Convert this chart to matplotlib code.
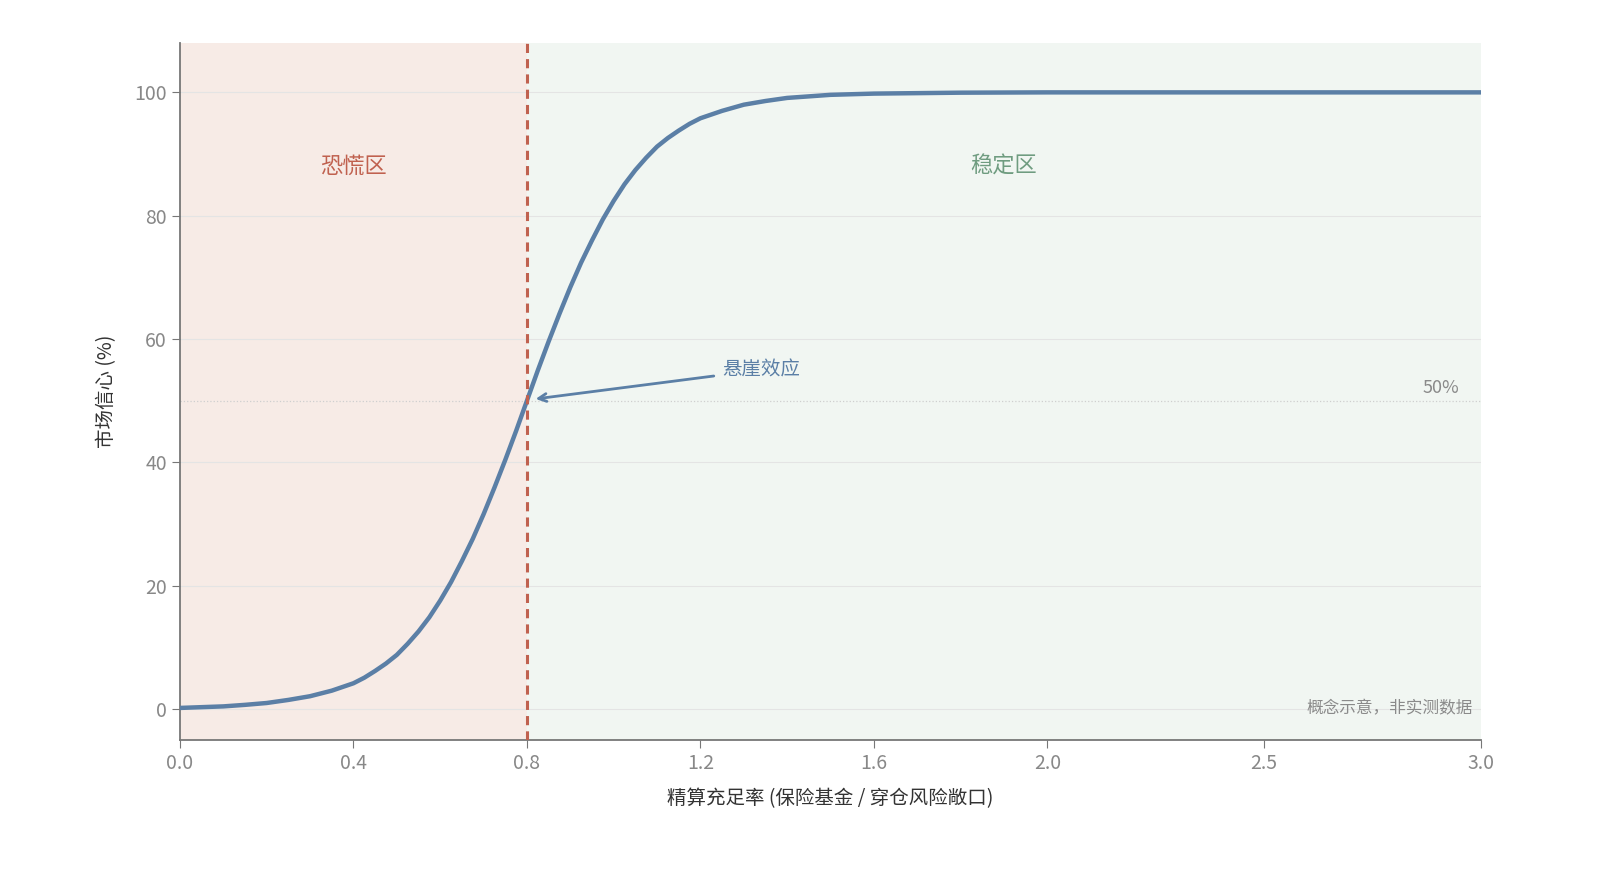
import numpy as np
import matplotlib.pyplot as plt

plt.rcParams['font.family'] = ['Noto Sans CJK SC', 'DejaVu Sans']

# values
ratio = [0.0, 0.1, 0.15, 0.2, 0.25, 0.3, 0.35, 0.4, 0.425, 0.45, 0.475, 0.5, 0.525, 0.55,
         0.575, 0.6, 0.625, 0.65, 0.675, 0.7, 0.725, 0.75, 0.775, 0.8,
         0.825, 0.85, 0.875, 0.9, 0.925, 0.95, 0.975, 1.0, 1.025, 1.05, 1.075, 1.1,
         1.125, 1.15, 1.175, 1.2, 1.25, 1.3, 1.35, 1.4, 1.5, 1.6, 1.8, 2.0, 2.5, 3.0]
confidence = [0.2, 0.45, 0.7, 1.0, 1.5, 2.1, 3.0, 4.2, 5.1, 6.2, 7.4, 8.8, 10.6, 12.6,
              14.9, 17.6, 20.6, 24.0, 27.6, 31.6, 35.9, 40.4, 45.1, 50.0,
              54.9, 59.6, 64.1, 68.4, 72.4, 76.0, 79.4, 82.4, 85.1, 87.4, 89.4, 91.2,
              92.6, 93.8, 94.9, 95.8, 97.0, 98.0, 98.6, 99.1, 99.6, 99.8, 99.95, 100.0, 100.0, 100.0]
xticks = [0.0, 0.4, 0.8, 1.2, 1.6, 2.0, 2.5, 3.0]
yticks = [0, 20, 40, 60, 80, 100]
threshold = 0.8

fig = plt.figure(figsize=(16, 8.89), dpi=100)
ax = fig.add_axes([0.1125, 0.1676, 0.8131, 0.784])
ax.set_xlim(0, 3.0)
ax.set_ylim(-5, 108)

ax.axvspan(0, threshold, color='#f7ebe6', zorder=0)
ax.axvspan(threshold, 3.0, color='#f1f6f2', zorder=0)
for y in yticks:
    ax.axhline(y, color='#e4e4e4', lw=0.8, zorder=1)
ax.axhline(50, color='#cfcfcf', lw=0.9, ls=':', zorder=1)

ax.plot(ratio, confidence, color='#5b7fa6', lw=3.2, zorder=3,
        solid_capstyle='round', solid_joinstyle='round')
ax.axvline(threshold, color='#c0614f', lw=2.2, ls=(0, (3, 2)), zorder=4)

ax.text(0.4, 88, '恐慌区', color='#c0614f', fontsize=16, ha='center', va='center')
ax.text(1.9, 88, '稳定区', color='#6f9c80', fontsize=16, ha='center', va='center')
ax.annotate('悬崖效应', xy=(0.82, 50.3), xytext=(1.25, 55), color='#5b7fa6', fontsize=14,
            ha='left', va='center',
            arrowprops=dict(arrowstyle='->', color='#5b7fa6', lw=2, shrinkB=0, shrinkA=4))
ax.text(2.95, 52, '50%', color='#8a8a8a', fontsize=13, ha='right', va='center')
ax.text(2.98, 0, '概念示意，非实测数据', color='#8a8a8a', fontsize=12, ha='right', va='center')

ax.set_xticks(xticks)
ax.set_xticklabels([f'{t:.1f}' for t in xticks])
ax.set_yticks(yticks)
ax.tick_params(colors='#777777', labelsize=14, length=6, labelcolor='#888888')
for s in ['top', 'right']:
    ax.spines[s].set_visible(False)
for s in ['left', 'bottom']:
    ax.spines[s].set_color('#777777')
    ax.spines[s].set_linewidth(1.3)

ax.set_xlabel('精算充足率 (保险基金 / 穿仓风险敞口)', fontsize=14, color='#333333', labelpad=10)
ax.set_ylabel('市场信心 (%)', fontsize=14, color='#333333', labelpad=12)

fig.savefig('out.png', dpi=100, facecolor='white')
